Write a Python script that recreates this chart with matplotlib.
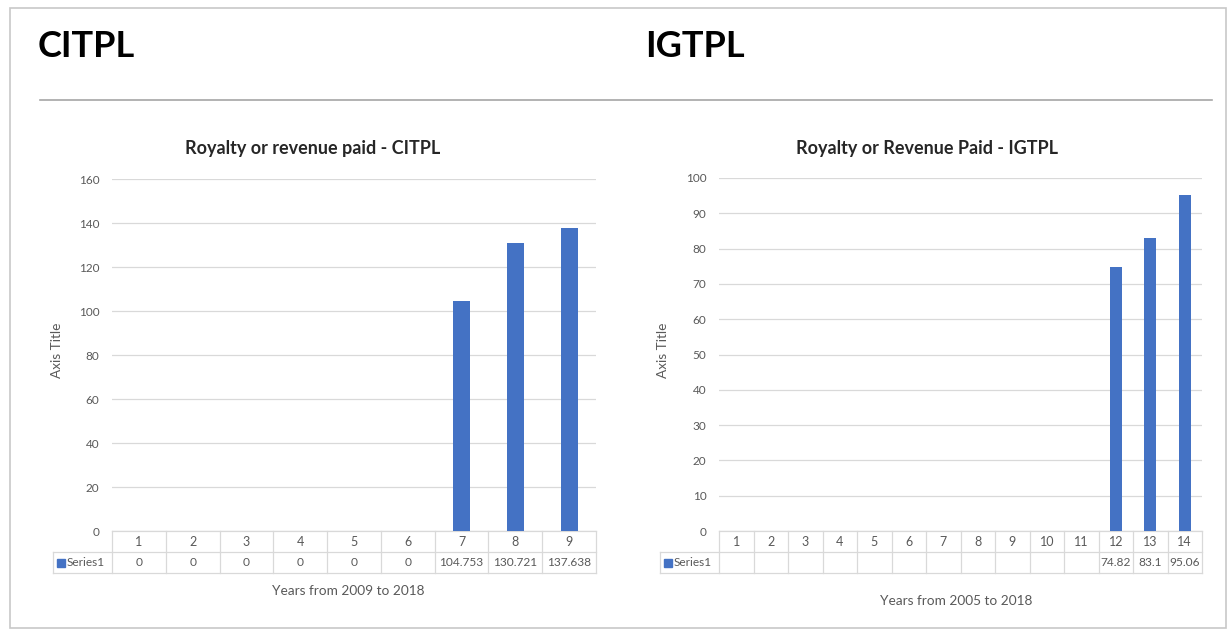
import numpy
import matplotlib
matplotlib.use("Agg")
import matplotlib.pyplot as plt
import matplotlib.transforms as mtransforms
from matplotlib.lines import Line2D
from matplotlib.patches import Rectangle

# figure in pixels, everything below is placed in pixel terms (top-left origin)
W, H = 1232, 632
BLUE = "#4472C4"
TEXT_GREY = "#595959"
GRID_GREY = "#D9D9D9"

plt.rcParams["font.family"] = ["Lato", "DejaVu Sans"]

# data
citpl_years = [1, 2, 3, 4, 5, 6, 7, 8, 9]
citpl_values = [0, 0, 0, 0, 0, 0, 104.753, 130.721, 137.638]
citpl_table = ["0", "0", "0", "0", "0", "0", "104.753", "130.721", "137.638"]

igtpl_years = [1, 2, 3, 4, 5, 6, 7, 8, 9, 10, 11, 12, 13, 14]
igtpl_values = [None] * 11 + [74.82, 83.1, 95.06]
igtpl_table = [""] * 11 + ["74.82", "83.1", "95.06"]


def fx(x):
    return x / W


def fy(y):
    return 1 - y / H


def draw_chart(fig, box, cats, values, table_labels, ymax, ystep, title,
               title_x, xlabel, xlabel_x, xlabel_y, ylabel_x, header_left,
               bar_width):
    x0, y0, x1, y1 = box
    ax = fig.add_axes([fx(x0), fy(y1), (x1 - x0) / W, (y1 - y0) / H])
    vals = numpy.array([numpy.nan if v is None else v for v in values],
                       dtype=float)
    ax.bar(cats, vals, bar_width, color=BLUE, zorder=3)
    n = len(cats)
    ax.set_xlim(0.5, n + 0.5)
    ax.set_ylim(0, ymax)
    ax.set_yticks(range(0, ymax + 1, ystep))
    ax.set_xticks([])
    ax.yaxis.grid(True, color=GRID_GREY, lw=0.9)
    ax.set_axisbelow(True)
    for s in ax.spines.values():
        s.set_visible(False)
    ax.tick_params(axis="y", length=0, pad=9, labelcolor=TEXT_GREY,
                   labelsize=8.5)

    # data table under the plot
    hpx = y1 - y0
    wpx = x1 - x0
    ay = lambda y: (y1 - y) / hpx
    axx = lambda x: (x - x0) / wpx
    trans = mtransforms.blended_transform_factory(ax.transData, ax.transAxes)
    r0, r1, r2 = y1, y1 + 21, y1 + 42
    kw = dict(color=GRID_GREY, lw=0.9, clip_on=False)
    ax.plot([0, 1], [ay(r0)] * 2, transform=ax.transAxes, **kw)
    for r in (r1, r2):
        ax.plot([axx(header_left), 1], [ay(r)] * 2, transform=ax.transAxes,
                **kw)
    ax.plot([axx(header_left)] * 2, [ay(r1), ay(r2)], transform=ax.transAxes,
            **kw)
    for i in range(n + 1):
        ax.plot([i + 0.5] * 2, [ay(r0), ay(r2)], transform=trans, **kw)
    for c, lab in zip(cats, table_labels):
        ax.text(c, ay(r0 + 14.5), str(c), transform=trans, ha="center",
                va="baseline", fontsize=9, color=TEXT_GREY)
        ax.text(c, ay(r1 + 14.5), lab, transform=trans, ha="center",
                va="baseline", fontsize=8.6, color=TEXT_GREY)
    ax.plot([axx(header_left + 8)], [ay(r1 + 10.5)], marker="s",
            markersize=5.5, color=BLUE, transform=ax.transAxes, clip_on=False)
    ax.text(axx(header_left + 14), ay(r1 + 14.5), "Series1",
            transform=ax.transAxes, ha="left", va="baseline", fontsize=8.6,
            color=TEXT_GREY)

    fig.text(fx(title_x), fy(154), title, ha="center", va="baseline",
             fontsize=13, fontweight="bold", color="#262626")
    fig.text(fx(xlabel_x), fy(xlabel_y), xlabel, ha="center", va="baseline",
             fontsize=9.8, color=TEXT_GREY)
    fig.text(fx(ylabel_x), fy(350), "Axis Title", ha="center", va="center",
             rotation=90, fontsize=9.8, color=TEXT_GREY)
    return ax


fig = plt.figure(figsize=(W / 100, H / 100), dpi=100)
fig.patch.set_facecolor("white")

# slide frame and separator line
fig.add_artist(Rectangle((fx(10), fy(628)), (1226 - 10) / W, (628 - 8) / H,
                         fill=False, edgecolor="#C8C8C8", lw=1.2))
fig.add_artist(Line2D([fx(40), fx(1212)], [fy(100), fy(100)],
                      color="#A6A6A6", lw=1.2))

fig.text(fx(38), fy(57), "CITPL", fontsize=26, fontweight="bold",
         va="baseline", color="black")
fig.text(fx(645), fy(57), "IGTPL", fontsize=26, fontweight="bold",
         va="baseline", color="black")

draw_chart(fig, (112, 179, 596, 531), citpl_years, citpl_values, citpl_table,
           160, 20, "Royalty or revenue paid - CITPL", 313,
           "Years from 2009 to 2018", 348, 595, 57, 53, 0.32)
draw_chart(fig, (719, 178, 1202, 531), igtpl_years, igtpl_values, igtpl_table,
           100, 10, "Royalty or Revenue Paid - IGTPL", 927,
           "Years from 2005 to 2018", 956, 605, 663, 660, 0.36)

fig.savefig("out.png", dpi=100)
